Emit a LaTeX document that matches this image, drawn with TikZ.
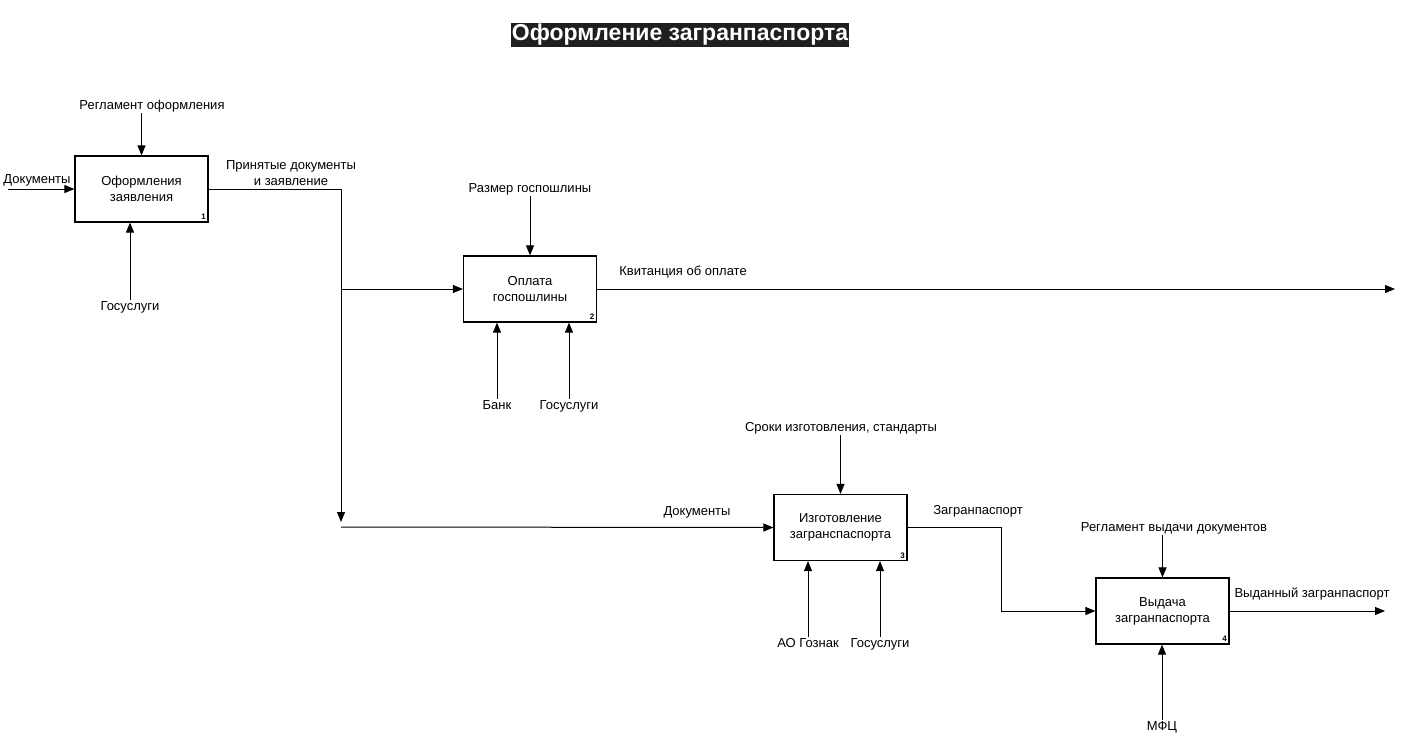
\documentclass[tikz,border=0pt]{standalone}
\usepackage{fontspec}
\setmainfont{Liberation Sans}
\usetikzlibrary{arrows.meta}

\begin{document}
\begin{tikzpicture}[x=1pt,y=-1pt,font=\fontsize{13}{16}\selectfont,
  func/.style={draw,line width=1.2pt,minimum width=133pt,minimum height=66pt,align=center,inner sep=0pt},
  num/.style={anchor=south east,inner sep=2.5pt,font=\bfseries\fontsize{8}{8}\selectfont},
  lbl/.style={inner sep=1pt,align=center,text height=9.5pt,text depth=3pt},
  flow/.style={line width=1pt,-{Triangle[length=10pt,width=8pt]}}]
\useasboundingbox (0,0) rectangle (1408,744);
% title
\node[fill=black!88,text=white,inner sep=1pt,text height=17pt,text depth=5.5pt,font=\bfseries\fontsize{23}{26}\selectfont] (title) at (680,35) {Оформление загранпаспорта};
% functions
\node[func] (box1) at (141.5,189) {Оформления\\заявления};
\node[func] (box2) at (530,289) {Оплата\\госпошлины};
\node[func] (box3) at (840.5,527.5) {Изготовление\\загранспаспорта};
\node[func] (box4) at (1162.5,611) {Выдача\\загранпаспорта};
\node[num] (n1) at (box1.south east) {1};
\node[num] (n2) at (box2.south east) {2};
\node[num] (n3) at (box3.south east) {3};
\node[num] (n4) at (box4.south east) {4};
% labels
\node[lbl] (docin) at (37,180) {Документы};
\node[lbl] (reg1) at (152,106) {Регламент оформления};
\node[lbl] (gos1) at (130,307) {Госуслуги};
\node[inner sep=1pt,align=center] (acc) at (291,173) {Принятые документы\\и заявление};
\node[lbl] (fee) at (530,189) {Размер госпошлины};
\node[lbl] (bank) at (497,406) {Банк};
\node[lbl] (gos2) at (569,406) {Госуслуги};
\node[lbl] (rcpt) at (683,272) {Квитанция об оплате};
\node[lbl] (docs) at (697,512) {Документы};
\node[lbl] (std) at (841,428) {Сроки изготовления, стандарты};
\node[lbl] (gozn) at (808,644) {АО Гознак};
\node[lbl] (gos3) at (880,644) {Госуслуги};
\node[lbl] (pass) at (978,511) {Загранпаспорт};
\node[lbl] (reg4) at (1174,528) {Регламент выдачи документов};
\node[lbl] (mfc) at (1162,727) {МФЦ};
\node[lbl] (issued) at (1312,594) {Выданный загранпаспорт};
% points
\coordinate (src) at (8,189);
\coordinate (turn1) at (341,189);
\coordinate (drop) at (341,522);
\coordinate (start3) at (341,527);
\coordinate (end2) at (1395,289);
\coordinate (bend) at (1001,569);
\coordinate (end4) at (1385,611);
% arrows
\draw[flow] (src) -- (box1.west);
\draw[flow] (reg1.south -| box1.north) -- (box1.north);
\draw[flow] (gos1.north) -- (gos1.north |- box1.south);
\draw[flow] (box1.east) -- (turn1) -- (drop);
\draw[flow] (turn1 |- box2.west) -- (box2.west);
\draw[flow] (start3) -- (box3.west);
\draw[flow] (fee.south) -- (box2.north);
\draw[flow] (bank.north) -- (bank.north |- box2.south);
\draw[flow] (gos2.north) -- (gos2.north |- box2.south);
\draw[flow] (box2.east) -- (end2);
\draw[flow] (std.south -| box3.north) -- (box3.north);
\draw[flow] (gozn.north) -- (gozn.north |- box3.south);
\draw[flow] (gos3.north) -- (gos3.north |- box3.south);
\draw[flow] (box3.east) -| (bend) |- (box4.west);
\draw[flow] (reg4.south -| box4.north) -- (box4.north);
\draw[flow] (mfc.north) -- (mfc.north |- box4.south);
\draw[flow] (box4.east) -- (end4);
\end{tikzpicture}
\end{document}
